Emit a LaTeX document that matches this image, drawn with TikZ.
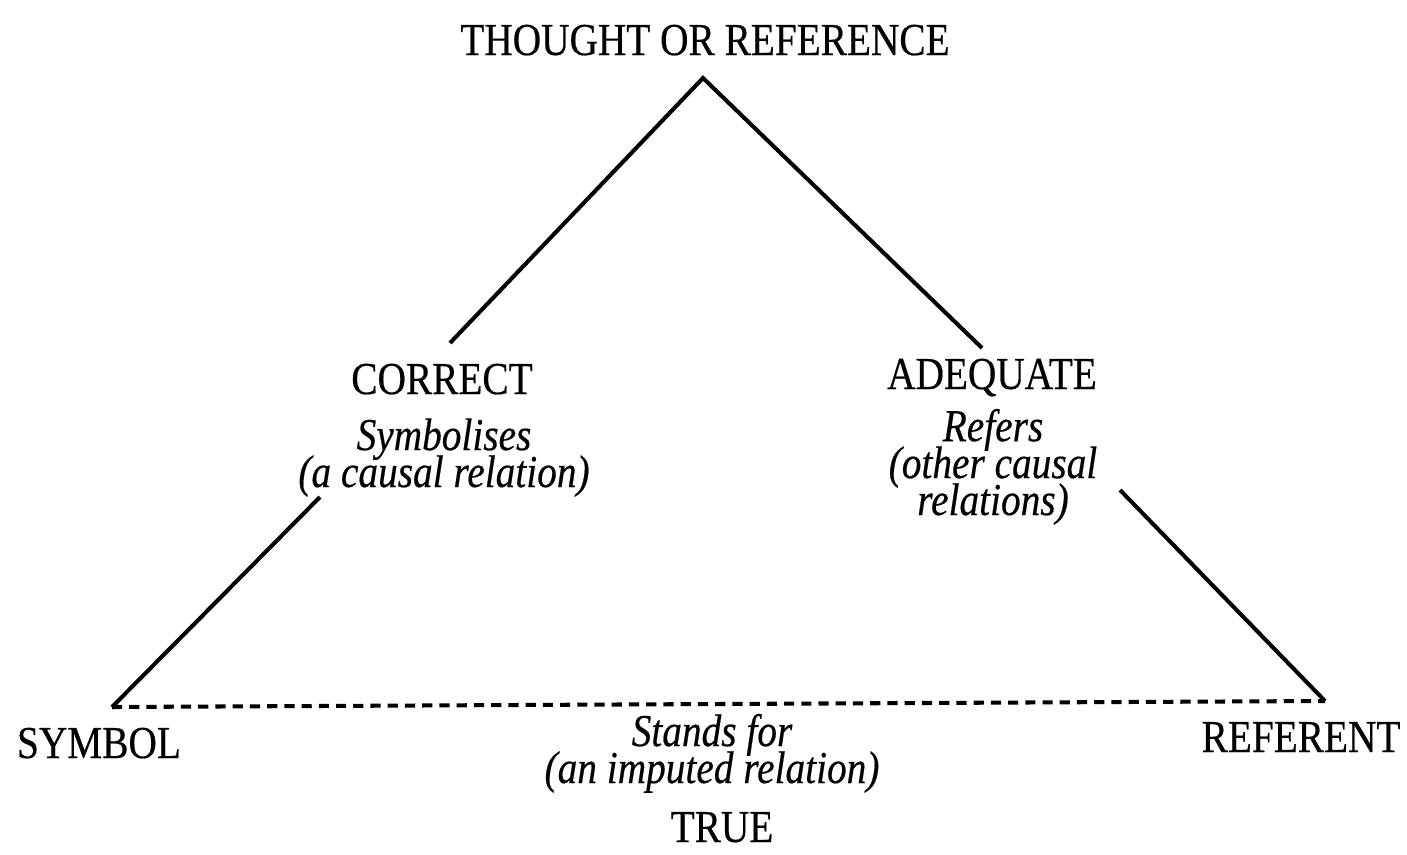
\documentclass[tikz,border=0pt]{standalone}
\usepackage{fontspec}
\setmainfont{Liberation Serif}[FakeStretch=0.86,FakeBold=0.4]
\usepackage{tikz}

\begin{document}
\begin{tikzpicture}[x=0.01cm,y=-0.01cm,
  label/.style={inner sep=0pt,anchor=base,font=\fontsize{13}{10.5}\selectfont},
  relation/.style={label,align=center,font=\fontsize{13}{10.5}\selectfont\itshape,
    execute at begin node={\baselineskip=10.5pt\lineskiplimit=-20pt}},
  side/.style={line width=1.15pt},
  imputed/.style={line width=1.15pt,dash pattern=on 2.9pt off 2pt}]
\useasboundingbox (0,0) rectangle (1407,854);

% --- corners and the ends of the broken sides
\coordinate (apex) at (703,78);
\coordinate (sym) at (112,707);
\coordinate (ref) at (1325,701);
\coordinate (lt) at (450,343); \coordinate (lb) at (320,497);
\coordinate (rt) at (982,348); \coordinate (rb) at (1120,490);

% --- the three corners
\node[label] (thought) at (705,55) {THOUGHT OR REFERENCE};
\node[label] (symbol) at (99,758) {SYMBOL};
\node[label] (referent) at (1301,752) {REFERENT};

% --- what each side stands for (anchor = baseline of the last line)
\node[label] (correct) at (442,394) {CORRECT};
\node[relation] (symbolises) at (444,487) {Symbolises\\(a causal relation)};
\node[label] (adequate) at (992,389) {ADEQUATE};
\node[relation] (refers) at (993,515) {Refers\\(other causal\\relations)};
\node[relation] (stands) at (712,783) {Stands for\\(an imputed relation)};
\node[label] (true) at (722,842) {TRUE};

% --- sides, "--" to the next coordinate, left and right are broken by the text
\draw[side] (lb) -- (sym) (lt) -- (apex) -- (rt) (rb) -- (ref);
\draw[imputed] (sym) -- (ref); % the dashed base

\end{tikzpicture}
\end{document}
